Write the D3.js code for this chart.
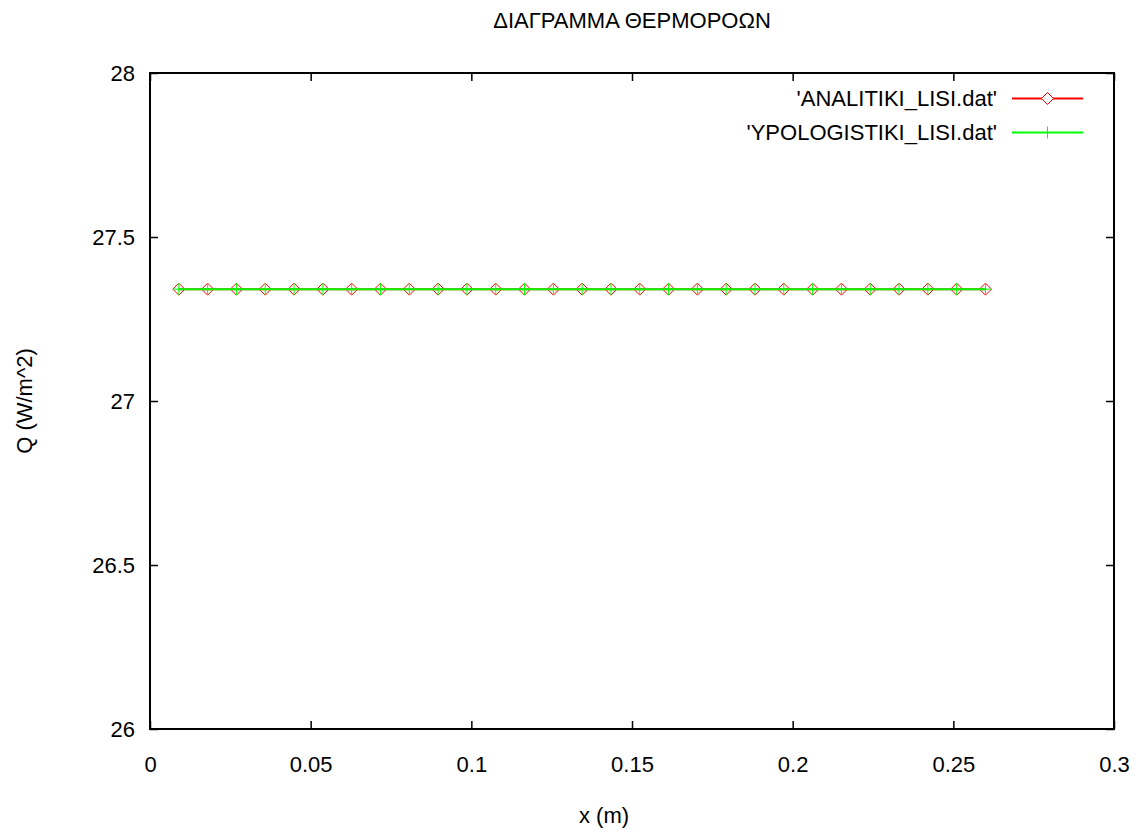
<!DOCTYPE html>
<html>
<head>
<meta charset="utf-8">
<script src="https://cdn.jsdelivr.net/npm/d3@7"></script>
<style>
  html, body { margin: 0; padding: 0; background: #fff; }
  svg text { font-family: "Liberation Sans", Arial, sans-serif; font-size: 22px; fill: #000; }
</style>
</head>
<body>
<svg id="chart" width="1142" height="830"></svg>
<script>
// Heat flux along the rod: analytical vs. computed solution
const xValues = [0.00897, 0.01793, 0.0269, 0.03586, 0.04483, 0.0538, 0.06276, 0.07172,
  0.08069, 0.08966, 0.09862, 0.10759, 0.11655, 0.12552, 0.13448, 0.14345, 0.15241,
  0.16138, 0.17034, 0.17931, 0.18828, 0.19724, 0.20621, 0.21517, 0.22414, 0.2331,
  0.24207, 0.25103, 0.26];
const analyticQ = [27.341, 27.341, 27.341, 27.341, 27.341, 27.341, 27.341, 27.341,
  27.341, 27.341, 27.341, 27.341, 27.341, 27.341, 27.341, 27.341, 27.341,
  27.341, 27.341, 27.341, 27.341, 27.341, 27.341, 27.341, 27.341, 27.341,
  27.341, 27.341, 27.341];
const computedQ = [27.341, 27.341, 27.341, 27.341, 27.341, 27.341, 27.341, 27.341,
  27.341, 27.341, 27.341, 27.341, 27.341, 27.341, 27.341, 27.341, 27.341,
  27.341, 27.341, 27.341, 27.341, 27.341, 27.341, 27.341, 27.341, 27.341,
  27.341, 27.341, 27.341];
const xTicks = [0, 0.05, 0.1, 0.15, 0.2, 0.25, 0.3];
const yTicks = [26, 26.5, 27, 27.5, 28];
const seriesNames = ["'ANALITIKI_LISI.dat'", "'YPOLOGISTIKI_LISI.dat'"];
const seriesColors = ["#ff0000", "#00ff00"];

const svg = d3.select("#chart");
const L = 150, R = 1114, T = 73, B = 729;

const x = d3.scaleLinear().domain([0, 0.3]).range([L, R]);
const y = d3.scaleLinear().domain([26, 28]).range([B, T]);
const fmt = d3.format("~g");

function styleAxis(g) {
  g.select(".domain").remove();
  g.selectAll(".tick line").attr("stroke", "#000").attr("stroke-width", 1.5);
  g.selectAll(".tick text").attr("font-family", null).attr("font-size", null);
}

svg.append("g").attr("transform", `translate(0,${B})`)
  .call(d3.axisBottom(x).tickValues(xTicks).tickFormat(fmt).tickSize(-8).tickPadding(27))
  .call(styleAxis);
svg.append("g").attr("transform", `translate(0,${T})`)
  .call(d3.axisTop(x).tickValues(xTicks).tickFormat("").tickSize(-8))
  .call(styleAxis);
svg.append("g").attr("transform", `translate(${L},0)`)
  .call(d3.axisLeft(y).tickValues(yTicks).tickFormat(fmt).tickSize(-8).tickPadding(15))
  .call(styleAxis);
svg.append("g").attr("transform", `translate(${R},0)`)
  .call(d3.axisRight(y).tickValues(yTicks).tickFormat("").tickSize(-8))
  .call(styleAxis);

// plot frame
svg.append("rect")
  .attr("x", L).attr("y", T).attr("width", R - L).attr("height", B - T)
  .attr("fill", "none").attr("stroke", "#000").attr("stroke-width", 2);

const line = d3.line().x(d => x(d[0])).y(d => y(d[1]));
const diamond = (cx, cy, r) => `M${cx},${cy - r}L${cx + r},${cy}L${cx},${cy + r}L${cx - r},${cy}Z`;
const plus = (cx, cy, r) => `M${cx - r},${cy}H${cx + r}M${cx},${cy - r}V${cy + r}`;

const seriesA = xValues.map((v, i) => [v, analyticQ[i]]);
const seriesB = xValues.map((v, i) => [v, computedQ[i]]);

// analytical solution: red line with open diamonds
svg.append("path").datum(seriesA).attr("d", line)
  .attr("fill", "none").attr("stroke", seriesColors[0]).attr("stroke-width", 2);
svg.append("g").selectAll("path").data(seriesA).join("path")
  .attr("d", d => diamond(x(d[0]), y(d[1]), 6))
  .attr("fill", "none").attr("stroke", seriesColors[0]).attr("stroke-width", 1);

// computed solution: green line with plus markers
svg.append("path").datum(seriesB).attr("d", line)
  .attr("fill", "none").attr("stroke", seriesColors[1]).attr("stroke-width", 2);
svg.append("g").selectAll("path").data(seriesB).join("path")
  .attr("d", d => plus(x(d[0]), y(d[1]), 6))
  .attr("fill", "none").attr("stroke", seriesColors[1]).attr("stroke-width", 1);

// legend
const legendRows = [98.5, 132.5];
seriesNames.forEach((name, i) => {
  const cy = legendRows[i];
  svg.append("text").attr("x", 997).attr("y", cy).attr("dy", "0.35em")
    .attr("text-anchor", "end").text(name);
  svg.append("line").attr("x1", 1012).attr("x2", 1083).attr("y1", cy).attr("y2", cy)
    .attr("stroke", seriesColors[i]).attr("stroke-width", 2);
  svg.append("path")
    .attr("d", i === 0 ? diamond(1047.5, cy, 6) : plus(1047.5, cy, 6))
    .attr("fill", i === 0 ? "#fff" : "none")
    .attr("stroke", seriesColors[i]).attr("stroke-width", 1);
});

// titles
svg.append("text").attr("x", (L + R) / 2).attr("y", 28).attr("text-anchor", "middle")
  .text("ΔΙΑΓΡΑΜΜΑ ΘΕΡΜΟΡΟΩΝ");
svg.append("text").attr("x", 604).attr("y", 823).attr("text-anchor", "middle")
  .text("x (m)");
svg.append("text").attr("transform", `translate(32,${(T + B) / 2}) rotate(-90)`)
  .attr("text-anchor", "middle").text("Q (W/m^2)");
</script>
</body>
</html>
